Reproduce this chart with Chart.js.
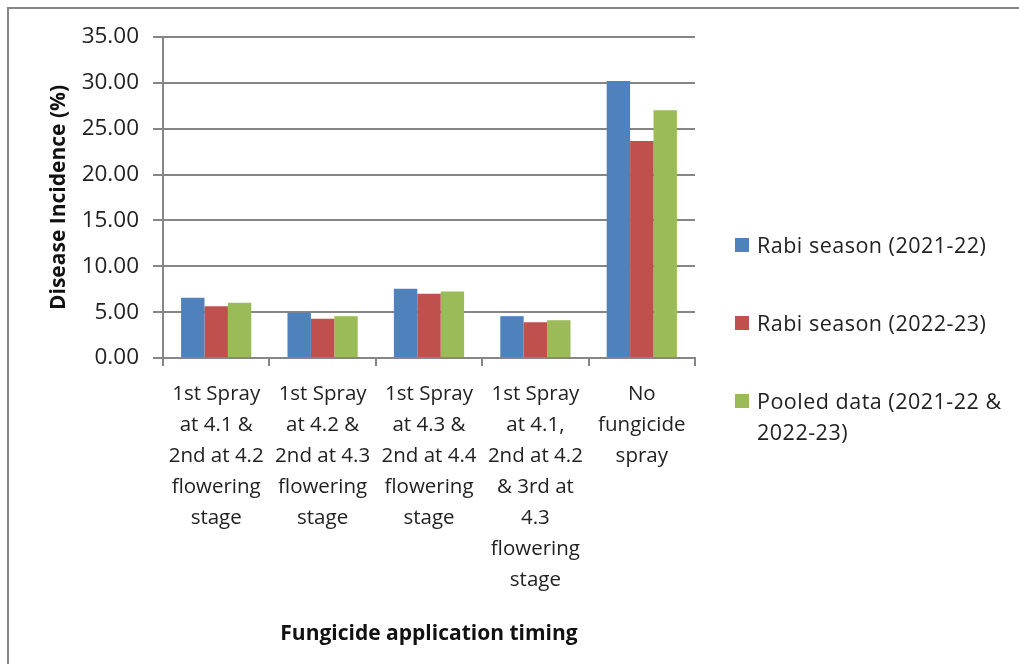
<!DOCTYPE html>
<html>
<head>
<meta charset="utf-8">
<script src="https://cdn.jsdelivr.net/npm/chart.js@4/dist/chart.umd.min.js"></script>
<style>
body{margin:0;background:#fff;}
#wrap{position:relative;width:1019px;height:664px;overflow:hidden;}
#frame{position:absolute;left:7px;top:7px;right:-10px;bottom:-10px;border-top:2px solid #868686;border-left:2px solid #868686;}
#legend{position:absolute;left:735px;top:229px;font-family:"Open Sans",sans-serif;font-size:21.5px;letter-spacing:0.5px;color:#222;}
#legend .item{position:relative;padding-left:22px;line-height:31px;height:78px;width:284px;}
#legend .sw{position:absolute;left:0;top:9px;width:14px;height:14px;}
</style>
</head>
<body>
<div id="wrap">
<div id="frame"></div>
<canvas id="chart" width="1019" height="664"></canvas>
<div id="legend"></div>
</div>
<script>
// treatments
let labels=[
["1st Spray","at 4.1 &","2nd at 4.2","flowering","stage"],
["1st Spray","at 4.2 &","2nd at 4.3","flowering","stage"],
["1st Spray","at 4.3 &","2nd at 4.4","flowering","stage"],
["1st Spray","at 4.1,","2nd at 4.2","& 3rd at","4.3","flowering","stage"],
["No","fungicide","spray"]
];

let series=["Rabi season (2021-22)","Rabi season (2022-23)","Pooled data (2021-22 & 2022-23)"];
let legendLines=[["Rabi season (2021-22)"],["Rabi season (2022-23)"],["Pooled data (2021-22 &","2022-23)"]];

let rabi2122=[6.57,4.93,7.56,4.56,30.2];
let rabi2223=[5.65,4.27,7.01,3.90,23.65];
let pooled=[6.02,4.56,7.26,4.12,27.0];

let yTicks=[0,5,10,15,20,25,30,35];

let colors=["#4f81bd","#c0504d","#9bbb59"];
let values=[rabi2122,rabi2223,pooled];

let datasets=[];
for(let i=0;i<3;i++){
datasets.push({
label:series[i],
data:values[i],
backgroundColor:colors[i],
borderWidth:0,
categoryPercentage:0.66,
barPercentage:1
});
}

let grey="#868686";
let fam="'Open Sans', sans-serif";

new Chart(document.getElementById("chart"),{
type:'bar',
data:{labels,datasets},
options:{
responsive:false,
animation:false,
layout:{padding:{left:36,top:37,right:324,bottom:10}},
plugins:{legend:{display:false},tooltip:{enabled:false}},
scales:{
x:{
afterFit:s=>{s.height=296;},
grid:{drawOnChartArea:false,color:grey,lineWidth:2,tickLength:8},
border:{color:grey,width:2},
ticks:{color:"#222",font:{family:fam,size:20.5,lineHeight:"31px"},padding:13,maxRotation:0,minRotation:0,autoSkip:false},
title:{display:true,text:"Fungicide application timing",color:"#111",font:{family:fam,size:21,weight:"bold"},padding:{top:0,bottom:7}}
},
y:{
min:0,max:35,
afterFit:s=>{s.width=127;},
afterBuildTicks:s=>{s.ticks=yTicks.map(v=>({value:v}));},
grid:{color:grey,lineWidth:2,tickLength:10},
border:{color:grey,width:2},
ticks:{color:"#222",font:{family:fam,size:22.5},padding:14,callback:v=>v.toFixed(2)},
title:{display:true,text:"Disease Incidence (%)",color:"#111",font:{family:fam,size:21,weight:"bold"},padding:{top:10,bottom:0}}
}
}
}
});

// legend beside the plot
let lg=document.getElementById("legend");
legendLines.forEach((lines,i)=>{
let d=document.createElement("div");
d.className="item";
let sw=document.createElement("span");
sw.className="sw";
sw.style.background=colors[i];
d.appendChild(sw);
lines.forEach((t,j)=>{
if(j>0)d.appendChild(document.createElement("br"));
d.appendChild(document.createTextNode(t));
});
lg.appendChild(d);
});
</script>
</body>
</html>
